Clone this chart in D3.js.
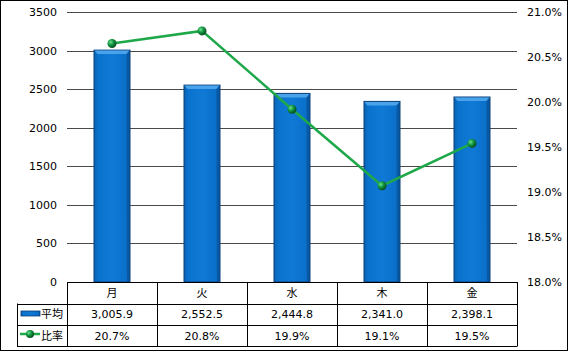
<!DOCTYPE html>
<html><head><meta charset="utf-8">
<script src="https://cdn.jsdelivr.net/npm/d3@7"></script>
<style>body{margin:0;background:#fff}svg{display:block}text{font-family:"DejaVu Sans","Noto Sans CJK JP",sans-serif;font-size:11px;fill:#000}</style>
</head><body>
<script>
const categories = ["月","火","水","木","金"];
const averages = [3005.9, 2552.5, 2444.8, 2341.0, 2398.1];
const ratios = [20.65, 20.79, 19.92, 19.07, 19.54];
const avgLabels = ["3,005.9","2,552.5","2,444.8","2,341.0","2,398.1"];
const ratioLabels = ["20.7%","20.8%","19.9%","19.1%","19.5%"];
const leftTicks = [0,500,1000,1500,2000,2500,3000,3500];
const rightTicks = [18.0,18.5,19.0,19.5,20.0,20.5,21.0];
const seriesNames = ["平均","比率"];

const W=569,H=352;
const L=67,R=517,T=12,B=282;
const svg=d3.select("body").append("svg").attr("width",W).attr("height",H);
const defs=svg.append("defs");
const bg=defs.append("linearGradient").attr("id","bar").attr("x1","0").attr("x2","1");
[["0","#0a62b2"],["0.12","#0a72cc"],["0.5","#0f7ad6"],["0.88","#0a70ca"],["1","#095ca8"]].forEach(s=>bg.append("stop").attr("offset",s[0]).attr("stop-color",s[1]));
const mg=defs.append("radialGradient").attr("id","mk").attr("cx","0.35").attr("cy","0.35").attr("r","0.7");
[["0","#6fe08f"],["0.45","#129a42"],["1","#06451c"]].forEach(s=>mg.append("stop").attr("offset",s[0]).attr("stop-color",s[1]));

svg.append("rect").attr("x",0.5).attr("y",0.5).attr("width",W-2).attr("height",H-2).attr("fill","#fff").attr("stroke","#000");

const x=d3.scaleBand().domain(categories).range([L,R]);
const y=d3.scaleLinear().domain([0,3500]).range([B,T]);
const y2=d3.scaleLinear().domain([18,21]).range([B,T]);

// grid
svg.append("g").selectAll("line").data(leftTicks.slice(1)).join("line")
 .attr("x1",L).attr("x2",R).attr("y1",d=>Math.round(y(d))+0.5).attr("y2",d=>Math.round(y(d))+0.5)
 .attr("stroke","#4a4a4a").attr("stroke-width",1);

// left axis labels
const ya=d3.axisLeft(y).tickValues(leftTicks).tickSize(0).tickPadding(10).tickFormat(d3.format("d"));
const gl=svg.append("g").attr("transform",`translate(${L},0)`).call(ya);
gl.select(".domain").remove();
gl.attr("font-family",null).attr("font-size",null);

const ya2=d3.axisRight(y2).tickValues(rightTicks).tickSize(0).tickPadding(10).tickFormat(d=>d.toFixed(1)+"%");
const gr=svg.append("g").attr("transform",`translate(${R},0)`).call(ya2);
gr.select(".domain").remove();
gr.attr("font-family",null).attr("font-size",null);

// bars
const bw=36;
const bars=svg.append("g").selectAll("g").data(averages).join("g");
bars.append("rect").attr("x",(d,i)=>x(categories[i])+x.bandwidth()/2-bw/2).attr("y",d=>y(d))
 .attr("width",bw).attr("height",d=>B-y(d)).attr("fill","url(#bar)").attr("stroke","#0a3f78").attr("stroke-width",1);
bars.append("path").attr("d",(d,i)=>{const x0=x(categories[i])+x.bandwidth()/2-bw/2,y0=y(d);
 return `M${x0+0.5},${y0+0.5}L${x0+bw-0.5},${y0+0.5}L${x0+bw-3.5},${y0+4}L${x0+3.5},${y0+4}Z`;}).attr("fill","#4aa3ea");
bars.append("path").attr("d",(d,i)=>{const x0=x(categories[i])+x.bandwidth()/2-bw/2,y0=y(d);
 return `M${x0+bw-0.5},${y0+0.5}L${x0+bw-0.5},${B}L${x0+bw-3},${B}L${x0+bw-3.5},${y0+4}Z`;}).attr("fill","#085096").attr("opacity",0.6);

// line
const line=d3.line().x((d,i)=>x(categories[i])+x.bandwidth()/2).y(d=>y2(d));
svg.append("path").datum(ratios).attr("d",line).attr("fill","none").attr("stroke","#1fa84a").attr("stroke-width",2.5);
svg.append("g").selectAll("circle").data(ratios).join("circle")
 .attr("cx",(d,i)=>x(categories[i])+x.bandwidth()/2).attr("cy",d=>y2(d)).attr("r",4.5).attr("fill","url(#mk)");

// table
const tg=svg.append("g").attr("stroke","#000").attr("stroke-width",1);
tg.append("line").attr("x1",L).attr("x2",R).attr("y1",282.5).attr("y2",282.5);
[303.5,325].forEach(v=>tg.append("line").attr("x1",17).attr("x2",R).attr("y1",Math.round(v)+0.5).attr("y2",Math.round(v)+0.5));
tg.append("line").attr("x1",17).attr("x2",R).attr("y1",346.5).attr("y2",346.5);
tg.append("line").attr("x1",17.5).attr("x2",17.5).attr("y1",303.5).attr("y2",346.5);
categories.forEach((c,i)=>tg.append("line").attr("x1",Math.round(x(c))+0.5).attr("x2",Math.round(x(c))+0.5).attr("y1",282).attr("y2",346.5));
tg.append("line").attr("x1",R+0.5).attr("x2",R+0.5).attr("y1",282).attr("y2",346.5);

const cx=(i)=>x(categories[i])+x.bandwidth()/2;
svg.append("g").selectAll("text").data(categories).join("text").attr("x",(d,i)=>cx(i)).attr("y",293).attr("dy","0.35em").attr("text-anchor","middle").text(d=>d);
svg.append("g").selectAll("text").data(avgLabels).join("text").attr("x",(d,i)=>cx(i)).attr("y",314.5).attr("dy","0.35em").attr("text-anchor","middle").text(d=>d);
svg.append("g").selectAll("text").data(ratioLabels).join("text").attr("x",(d,i)=>cx(i)).attr("y",336).attr("dy","0.35em").attr("text-anchor","middle").text(d=>d);

// legend keys
svg.append("rect").attr("x",21).attr("y",311).attr("width",19).attr("height",5).attr("fill","url(#bar)").attr("stroke","#0a3f78").attr("stroke-width",0.8);
svg.append("text").attr("x",41).attr("y",314.5).attr("dy","0.35em").text(seriesNames[0]);
svg.append("line").attr("x1",20).attr("x2",40).attr("y1",334).attr("y2",334).attr("stroke","#1fa84a").attr("stroke-width",2.5);
svg.append("circle").attr("cx",30).attr("cy",334).attr("r",4).attr("fill","url(#mk)");
svg.append("text").attr("x",41).attr("y",336).attr("dy","0.35em").text(seriesNames[1]);
</script>
</body></html>
